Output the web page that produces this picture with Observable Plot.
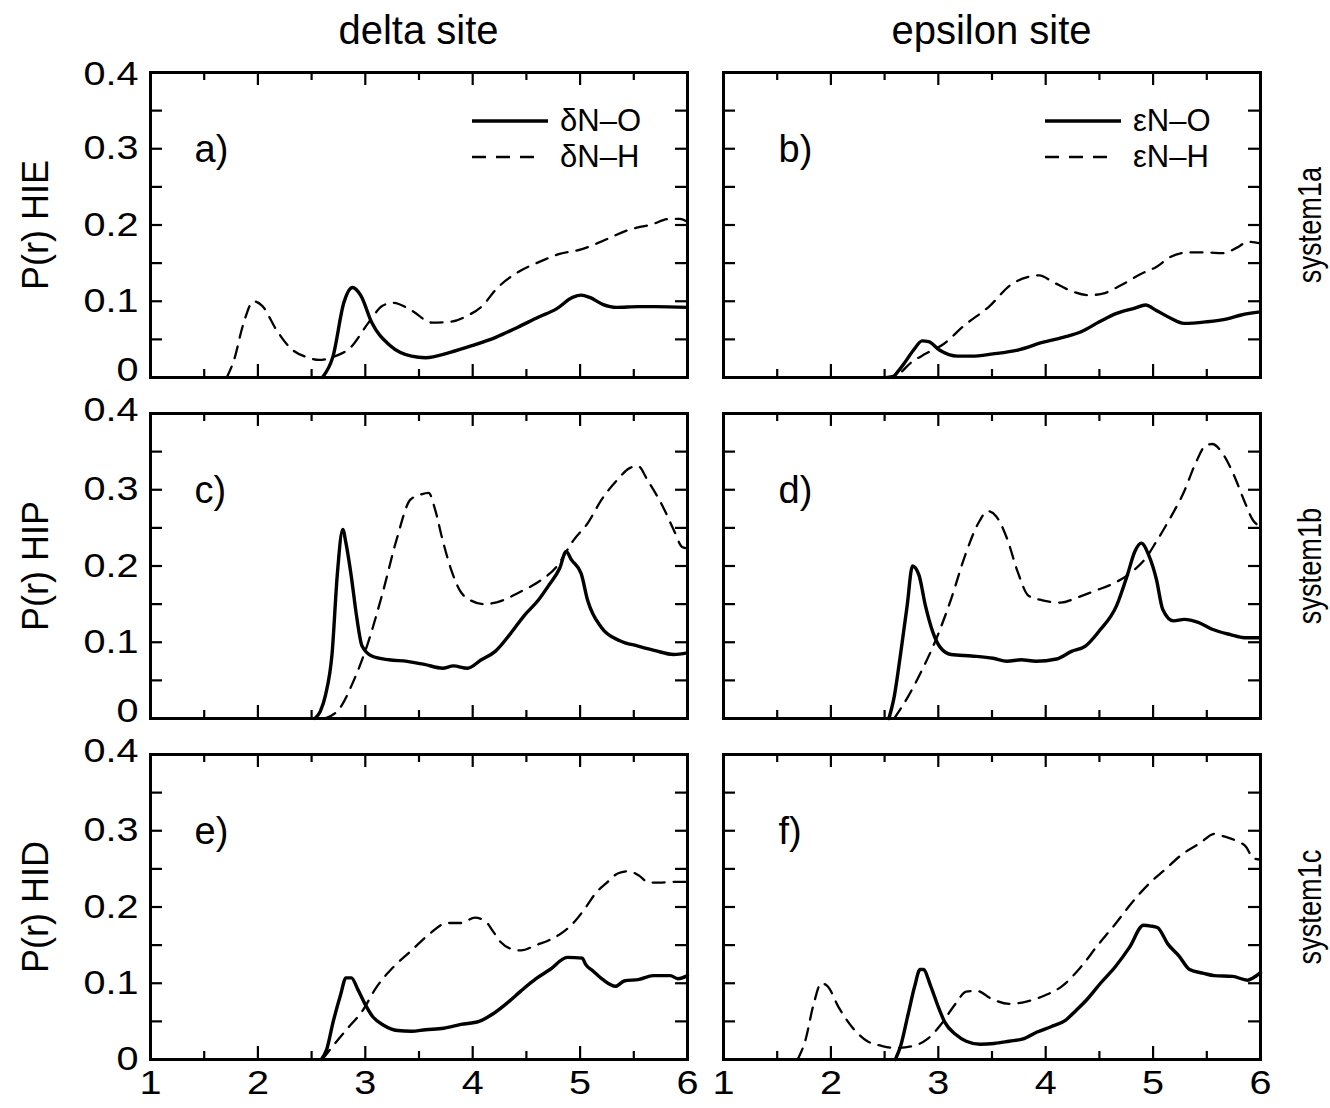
<!DOCTYPE html>
<html>
<head>
<meta charset="utf-8">
<script src="https://cdn.jsdelivr.net/npm/d3@7"></script>
<script src="https://cdn.jsdelivr.net/npm/@observablehq/plot@0.6"></script>
<style>
  html, body { margin: 0; padding: 0; background: #fff; }
  #fig {
    position: relative; width: 1330px; height: 1108px; background: #fff; overflow: hidden;
    font-family: "Liberation Sans", Arial, Helvetica, sans-serif; color: #000;
  }
  #fig svg { position: absolute; overflow: visible; }
  .coltitle { position: absolute; font-size: 40px; white-space: nowrap; transform: translate(-50%, -50%); }
  .sidelabel {
    position: absolute; white-space: nowrap;
    font-family: "Liberation Sans", Arial, sans-serif;
  }
  .rowtitle { font-size: 36px; transform: translate(-50%, -50%) rotate(-90deg); }
  .sysname { font-size: 34px; transform: translate(-50%, -50%) rotate(-90deg) scaleX(0.8); }
  .legend { position: absolute; font-size: 31px; line-height: 36px; }
  .legend .row { display: flex; align-items: center; height: 36px; }
  .legend svg { position: static !important; margin-right: 12px; }
</style>
</head>
<body>
<div id="fig"></div>
<script>
// ---- axis ticks and labels ----
const xMajor = [1, 2, 3, 4, 5, 6];
const xMinor = [1.5, 2.5, 3.5, 4.5, 5.5];
const yMinor = [0.05, 0.1, 0.15, 0.2, 0.25, 0.3, 0.35];
const yLabelZero = [0];
const yLabelsMid = [0.1, 0.2, 0.3];
const yLabelTop = [0.4];

const columnTitles = ["delta site", "epsilon site"];
const rowTitles = ["P(r) HIE", "P(r) HIP", "P(r) HID"];
const systemNames = ["system1a", "system1b", "system1c"];
const panelLetters = [["a)", "b)"], ["c)", "d)"], ["e)", "f)"]];
const legendDelta = ["δN–O", "δN–H"];
const legendEpsilon = ["εN–O", "εN–H"];

// ---- distributions P(r): [r, P] ----
// HIE, system1a
const hieDeltaNO = [[2.60,0],[2.70,0.028],[2.80,0.098],[2.88,0.118],[2.96,0.107],[3.06,0.072],[3.23,0.042],[3.43,0.028],[3.56,0.026],[3.79,0.033],[4.00,0.042],[4.22,0.053],[4.42,0.066],[4.61,0.079],[4.78,0.090],[4.93,0.105],[5.01,0.108],[5.09,0.105],[5.21,0.096],[5.34,0.092],[5.54,0.093],[5.70,0.093],[6.00,0.092]];
const hieDeltaNH = [[1.71,0],[1.78,0.024],[1.86,0.068],[1.96,0.100],[2.04,0.094],[2.17,0.063],[2.30,0.039],[2.47,0.026],[2.57,0.023],[2.72,0.028],[2.86,0.039],[3.03,0.072],[3.16,0.094],[3.26,0.098],[3.43,0.088],[3.62,0.072],[3.79,0.073],[3.95,0.081],[4.09,0.094],[4.22,0.116],[4.42,0.138],[4.61,0.151],[4.81,0.162],[5.01,0.168],[5.21,0.179],[5.44,0.193],[5.67,0.201],[5.83,0.208],[5.93,0.208],[6.00,0.204]];
const hieEpsNO = [[2.58,0],[2.68,0.018],[2.77,0.036],[2.85,0.048],[2.91,0.047],[3.01,0.036],[3.18,0.028],[3.31,0.028],[3.51,0.031],[3.74,0.036],[3.97,0.046],[4.17,0.053],[4.33,0.060],[4.50,0.073],[4.66,0.084],[4.83,0.091],[4.93,0.095],[5.03,0.088],[5.16,0.078],[5.29,0.071],[5.49,0.073],[5.69,0.077],[5.82,0.082],[6.00,0.086]];
const hieEpsNH = [[2.48,0],[2.62,0.004],[2.75,0.020],[2.88,0.031],[3.05,0.044],[3.24,0.068],[3.48,0.094],[3.67,0.121],[3.84,0.132],[3.94,0.134],[4.07,0.125],[4.23,0.114],[4.40,0.108],[4.53,0.110],[4.70,0.121],[4.89,0.136],[5.03,0.145],[5.16,0.158],[5.32,0.164],[5.49,0.164],[5.65,0.163],[5.79,0.171],[5.88,0.178],[6.00,0.176]];
// HIP, system1b
const hipDeltaNO = [[2.53,0],[2.58,0.009],[2.63,0.031],[2.69,0.084],[2.74,0.190],[2.79,0.248],[2.82,0.230],[2.87,0.186],[2.92,0.133],[2.97,0.095],[3.06,0.082],[3.22,0.077],[3.39,0.075],[3.55,0.071],[3.72,0.066],[3.82,0.069],[3.95,0.066],[4.08,0.077],[4.21,0.088],[4.35,0.111],[4.48,0.135],[4.61,0.155],[4.71,0.175],[4.81,0.197],[4.87,0.219],[4.92,0.208],[5.01,0.190],[5.07,0.155],[5.20,0.119],[5.37,0.102],[5.54,0.095],[5.70,0.089],[5.87,0.084],[6.00,0.086]];
const hipDeltaNH = [[2.62,0],[2.76,0.013],[2.89,0.049],[3.02,0.097],[3.16,0.164],[3.29,0.234],[3.42,0.287],[3.52,0.294],[3.59,0.296],[3.65,0.274],[3.72,0.234],[3.80,0.195],[3.88,0.168],[3.98,0.155],[4.11,0.150],[4.28,0.155],[4.44,0.166],[4.61,0.179],[4.78,0.199],[4.94,0.234],[5.07,0.256],[5.20,0.287],[5.34,0.312],[5.47,0.329],[5.54,0.331],[5.63,0.312],[5.77,0.278],[5.87,0.248],[5.95,0.225],[6.00,0.223]];
const hipEpsNO = [[2.54,0],[2.59,0.029],[2.65,0.086],[2.71,0.148],[2.76,0.200],[2.82,0.188],[2.88,0.148],[2.95,0.113],[3.02,0.093],[3.12,0.084],[3.31,0.082],[3.51,0.079],[3.64,0.075],[3.77,0.077],[3.91,0.075],[4.10,0.078],[4.24,0.088],[4.37,0.095],[4.50,0.115],[4.66,0.148],[4.76,0.188],[4.83,0.219],[4.89,0.230],[4.96,0.214],[5.03,0.183],[5.09,0.143],[5.19,0.128],[5.29,0.130],[5.42,0.126],[5.55,0.117],[5.72,0.110],[5.85,0.106],[6.00,0.106]];
const hipEpsNH = [[2.59,0],[2.72,0.029],[2.85,0.064],[2.98,0.104],[3.12,0.157],[3.25,0.214],[3.38,0.258],[3.46,0.272],[3.54,0.265],[3.64,0.236],[3.74,0.192],[3.84,0.161],[3.97,0.155],[4.14,0.152],[4.30,0.159],[4.47,0.168],[4.63,0.177],[4.80,0.192],[4.93,0.210],[5.03,0.232],[5.16,0.263],[5.29,0.298],[5.39,0.333],[5.49,0.358],[5.55,0.360],[5.65,0.347],[5.75,0.320],[5.85,0.285],[5.93,0.260],[6.00,0.252]];
// HID, system1c
const hidDeltaNO = [[2.59,0],[2.64,0.013],[2.70,0.049],[2.77,0.085],[2.82,0.107],[2.87,0.107],[2.93,0.092],[3.00,0.072],[3.07,0.056],[3.17,0.045],[3.30,0.038],[3.43,0.037],[3.56,0.039],[3.73,0.041],[3.89,0.046],[4.06,0.050],[4.19,0.060],[4.32,0.074],[4.45,0.090],[4.59,0.106],[4.72,0.118],[4.88,0.134],[5.02,0.133],[5.05,0.125],[5.12,0.116],[5.21,0.105],[5.33,0.096],[5.41,0.103],[5.55,0.105],[5.68,0.110],[5.84,0.110],[5.91,0.106],[6.00,0.110]];
const hidDeltaNH = [[2.60,0],[2.70,0.018],[2.83,0.040],[2.97,0.063],[3.10,0.094],[3.26,0.121],[3.43,0.143],[3.60,0.165],[3.76,0.179],[3.89,0.179],[4.02,0.186],[4.12,0.181],[4.19,0.168],[4.26,0.154],[4.36,0.145],[4.45,0.143],[4.59,0.150],[4.72,0.157],[4.85,0.168],[4.95,0.181],[5.05,0.199],[5.15,0.219],[5.25,0.232],[5.35,0.244],[5.45,0.247],[5.55,0.241],[5.64,0.232],[5.74,0.232],[5.88,0.233],[6.00,0.233]];
const hidEpsNO = [[2.60,0],[2.65,0.018],[2.72,0.060],[2.78,0.096],[2.83,0.118],[2.86,0.118],[2.93,0.096],[3.00,0.069],[3.06,0.049],[3.16,0.033],[3.26,0.024],[3.39,0.020],[3.52,0.021],[3.66,0.024],[3.79,0.027],[3.92,0.036],[4.05,0.043],[4.18,0.051],[4.28,0.064],[4.38,0.078],[4.51,0.100],[4.65,0.122],[4.78,0.147],[4.91,0.176],[4.98,0.175],[5.04,0.173],[5.14,0.151],[5.24,0.136],[5.34,0.118],[5.47,0.113],[5.57,0.110],[5.74,0.109],[5.88,0.104],[5.93,0.107],[6.00,0.114]];
const hidEpsNH = [[1.69,0],[1.76,0.024],[1.84,0.073],[1.91,0.100],[1.97,0.096],[2.07,0.069],[2.20,0.042],[2.34,0.024],[2.47,0.018],[2.60,0.015],[2.77,0.018],[2.90,0.027],[3.03,0.047],[3.16,0.073],[3.26,0.089],[3.36,0.090],[3.49,0.080],[3.66,0.073],[3.82,0.076],[3.99,0.084],[4.15,0.096],[4.32,0.120],[4.48,0.149],[4.65,0.178],[4.81,0.207],[4.98,0.233],[5.11,0.249],[5.27,0.269],[5.44,0.284],[5.57,0.296],[5.65,0.293],[5.77,0.287],[5.87,0.278],[5.93,0.264],[6.00,0.262]];

const seriesGrid = [
  [[hieDeltaNO, hieDeltaNH], [hieEpsNO, hieEpsNH]],
  [[hipDeltaNO, hipDeltaNH], [hipEpsNO, hipEpsNH]],
  [[hidDeltaNO, hidDeltaNH], [hidEpsNO, hidEpsNH]]
];

// ---- layout ----
const PW = 537, PH = 305;
const colLeft = [150, 723];
const rowTop = [72, 413, 754];
const letterDx = [44, 55];
const M = {left: 100, right: 12, top: 14, bottom: 60};
const DASH = "12,9";
const SOLID_W = 3.4, DASH_W = 2.3;
const TICK_FONT = 33;
const TICK_STRETCH = 1.2;   // tick numerals are set wide

const fig = document.getElementById("fig");

function panel(row, col) {
  const [solid, dashed] = seriesGrid[row][col];
  const marks = [
    // inward ticks on all four sides
    Plot.ruleX(xMajor, {x: d => d, insetTop: PH - 13, strokeWidth: 2.2}),
    Plot.ruleX(xMajor, {x: d => d, insetBottom: PH - 13, strokeWidth: 2.2}),
    Plot.ruleX(xMinor, {x: d => d, insetTop: PH - 8, strokeWidth: 2.2}),
    Plot.ruleX(xMinor, {x: d => d, insetBottom: PH - 8, strokeWidth: 2.2}),
    Plot.ruleY(yMinor, {y: d => d, insetRight: PW - 12, strokeWidth: 2.2}),
    Plot.ruleY(yMinor, {y: d => d, insetLeft: PW - 12, strokeWidth: 2.2}),
    Plot.line(dashed, {x: d => d[0], y: d => d[1], stroke: "#000", strokeWidth: DASH_W,
      strokeDasharray: DASH, curve: "monotone-x"}),
    Plot.line(solid, {x: d => d[0], y: d => d[1], stroke: "#000", strokeWidth: SOLID_W,
      curve: "monotone-x", strokeLinejoin: "round"}),
    Plot.frame({stroke: "#000", strokeWidth: 3}),
    Plot.text([panelLetters[row][col]], {frameAnchor: "top-left", dx: letterDx[col], dy: 77,
      lineAnchor: "middle", text: d => d, fontSize: 38, textAnchor: "start"})
  ];
  if (col === 0) {
    const fmt = d => d === 0 ? "0" : d.toFixed(1);
    const yAxis = (ticks, dy) => Plot.axisY(ticks, {anchor: "left", tickSize: 0, tickPadding: 12,
      tickFormat: fmt, fontSize: TICK_FONT, dy});
    // the "0" and "0.4" of stacked panels are nudged apart
    marks.push(yAxis(yLabelZero, row < 2 ? -7 : 0));
    marks.push(yAxis(yLabelsMid, 0));
    marks.push(yAxis(yLabelTop, row === 0 ? 2 : -3));
  }
  if (row === 2) {
    marks.push(Plot.axisX(xMajor, {anchor: "bottom", tickSize: 0, tickPadding: 11,
      tickFormat: d => String(d), fontSize: TICK_FONT}));
  }
  const svg = Plot.plot({
    width: PW + M.left + M.right,
    height: PH + M.top + M.bottom,
    marginLeft: M.left, marginRight: M.right, marginTop: M.top, marginBottom: M.bottom,
    x: {domain: [1, 6], axis: null},
    y: {domain: [0, 0.4], axis: null},
    style: {fontFamily: "'Liberation Sans', Arial, Helvetica, sans-serif", fontSize: "33px",
      background: "transparent", color: "#000"},
    marks
  });
  // widen the tick numerals about their anchor points
  d3.select(svg).selectAll('g[aria-label$="tick label"] text').each(function () {
    const t = this.getAttribute("transform");
    if (t) this.setAttribute("transform", t + ` scale(${TICK_STRETCH},1)`);
  });
  svg.style.left = (colLeft[col] - M.left) + "px";
  svg.style.top = (rowTop[row] - M.top) + "px";
  fig.appendChild(svg);
}

for (let r = 0; r < 3; r++) for (let c = 0; c < 2; c++) panel(r, c);

// column titles
columnTitles.forEach((t, c) => {
  const d = document.createElement("div");
  d.className = "coltitle";
  d.textContent = t;
  d.style.left = (colLeft[c] + PW / 2) + "px";
  d.style.top = "30px";
  fig.appendChild(d);
});

// row titles on the left, system names on the right
rowTitles.forEach((t, r) => {
  const d = document.createElement("div");
  d.className = "sidelabel rowtitle";
  d.textContent = t;
  d.style.left = "36px";
  d.style.top = (rowTop[r] + PH / 2) + "px";
  fig.appendChild(d);
  const s = document.createElement("div");
  s.className = "sidelabel sysname";
  s.textContent = systemNames[r];
  s.style.left = "1309px";
  s.style.top = (rowTop[r] + PH / 2) + "px";
  fig.appendChild(s);
});

// line-style keys in the top panels
[legendDelta, legendEpsilon].forEach((labels, c) => {
  const box = document.createElement("div");
  box.className = "legend";
  box.style.left = (colLeft[c] + PW - 215) + "px";
  box.style.top = (rowTop[0] + 31) + "px";
  labels.forEach((lab, i) => {
    const rowEl = document.createElement("div");
    rowEl.className = "row";
    const s = d3.create("svg").attr("width", 76).attr("height", 20);
    s.append("line").attr("x1", 0).attr("x2", i === 0 ? 76 : 68).attr("y1", 10).attr("y2", 10)
      .attr("stroke", "#000").attr("stroke-width", i === 0 ? SOLID_W : DASH_W)
      .attr("stroke-dasharray", i === 0 ? null : "14,10");
    rowEl.appendChild(s.node());
    const span = document.createElement("span");
    span.textContent = lab;
    rowEl.appendChild(span);
    box.appendChild(rowEl);
  });
  fig.appendChild(box);
});
</script>
</body>
</html>
